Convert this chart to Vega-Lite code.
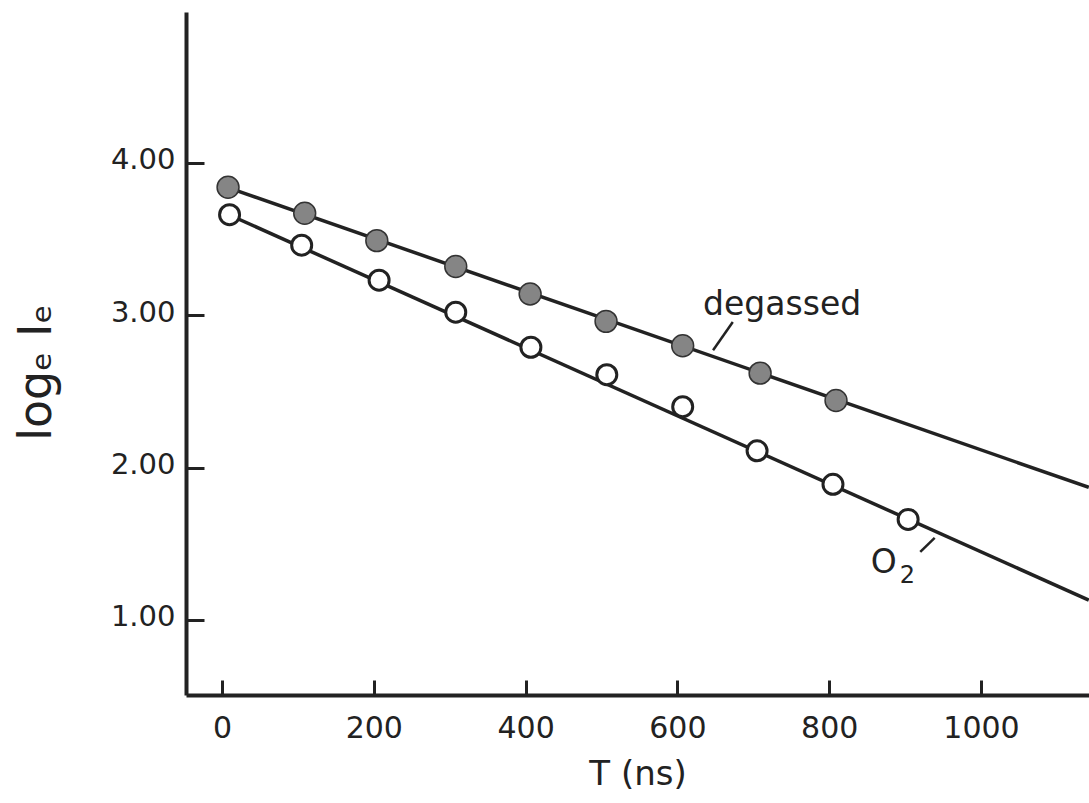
{
  "$schema": "https://vega.github.io/schema/vega-lite/v6.json",
  "width": 903,
  "height": 683,
  "autosize": {"type": "none"},
  "padding": {"left": 186, "top": 12, "right": 0, "bottom": 108},
  "background": "white",
  "config": {
    "view": {"stroke": null},
    "font": "DejaVu Sans",
    "axis": {
      "grid": false,
      "domainColor": "#222222",
      "domainWidth": 4,
      "tickColor": "#222222",
      "tickWidth": 3,
      "labelColor": "#222222",
      "titleColor": "#222222",
      "labelFont": "DejaVu Sans",
      "titleFont": "DejaVu Sans",
      "labelFontWeight": "normal",
      "titleFontWeight": "normal"
    }
  },
  "datasets": {
    "points": [
      {"sample": "degassed", "t": 8, "v": 3.84},
      {"sample": "degassed", "t": 109, "v": 3.67},
      {"sample": "degassed", "t": 204, "v": 3.49},
      {"sample": "degassed", "t": 308, "v": 3.32},
      {"sample": "degassed", "t": 406, "v": 3.14},
      {"sample": "degassed", "t": 506, "v": 2.96},
      {"sample": "degassed", "t": 607, "v": 2.8},
      {"sample": "degassed", "t": 709, "v": 2.62},
      {"sample": "degassed", "t": 809, "v": 2.44},
      {"sample": "O2", "t": 10, "v": 3.66},
      {"sample": "O2", "t": 105, "v": 3.46},
      {"sample": "O2", "t": 207, "v": 3.23},
      {"sample": "O2", "t": 308, "v": 3.02},
      {"sample": "O2", "t": 407, "v": 2.79},
      {"sample": "O2", "t": 507, "v": 2.61},
      {"sample": "O2", "t": 607, "v": 2.4},
      {"sample": "O2", "t": 705, "v": 2.11},
      {"sample": "O2", "t": 805, "v": 1.89},
      {"sample": "O2", "t": 904, "v": 1.66}
    ],
    "fits": [
      {"sample": "degassed", "t": 7, "v": 3.84},
      {"sample": "degassed", "t": 1142, "v": 1.87},
      {"sample": "O2", "t": 9, "v": 3.66},
      {"sample": "O2", "t": 1142, "v": 1.13}
    ],
    "notes": [
      {"label": "degassed", "t": 738, "v": 3.0, "align": "center"},
      {"label": "O", "t": 872, "v": 1.31, "align": "left"}
    ],
    "subscripts": [
      {"label": "2", "t": 893, "v": 1.245}
    ],
    "leaders": [
      {"t": 647, "v": 2.77, "t2": 673, "v2": 2.956},
      {"t": 920, "v": 1.446, "t2": 939, "v2": 1.538}
    ]
  },
  "layer": [
    {
      "data": {"name": "fits"},
      "mark": {"type": "line", "color": "#222222", "strokeWidth": 3.5},
      "encoding": {
        "x": {
          "field": "t",
          "type": "quantitative",
          "scale": {"domain": [-47.4, 1142.3], "nice": false, "zero": false},
          "axis": {
            "values": [0, 200, 400, 600, 800, 1000],
            "format": "d",
            "tickSize": -15,
            "labelPadding": 33,
            "labelFontSize": 30,
            "title": "T (ns)",
            "titleFontSize": 34,
            "titlePadding": 14
          }
        },
        "y": {
          "field": "v",
          "type": "quantitative",
          "scale": {"domain": [0.507, 4.991], "nice": false, "zero": false},
          "axis": {
            "values": [1, 2, 3, 4],
            "format": ".2f",
            "tickSize": -18,
            "labelPadding": 29,
            "labelFontSize": 29,
            "labelOffset": -3,
            "title": "logₑ Iₑ",
            "titleFontSize": 46,
            "titleAngle": -90,
            "titleBaseline": "middle",
            "titleX": -150,
            "titleY": 360
          }
        },
        "detail": {"field": "sample"}
      }
    },
    {
      "mark": {"type": "rule", "color": "#222222", "strokeWidth": 3.5},
      "encoding": {
        "y": {"datum": 4.991, "type": "quantitative"}
      }
    },
    {
      "data": {"name": "leaders"},
      "mark": {"type": "rule", "color": "#222222", "strokeWidth": 2.5},
      "encoding": {
        "x": {"field": "t", "type": "quantitative"},
        "y": {"field": "v", "type": "quantitative"},
        "x2": {"field": "t2"},
        "y2": {"field": "v2"}
      }
    },
    {
      "data": {"name": "points"},
      "transform": [{"filter": "datum.sample === 'degassed'"}],
      "mark": {"type": "point", "shape": "circle", "filled": true, "fill": "#858585", "stroke": "#333333", "strokeWidth": 1.5, "size": 480, "opacity": 1},
      "encoding": {
        "x": {"field": "t", "type": "quantitative"},
        "y": {"field": "v", "type": "quantitative"}
      }
    },
    {
      "data": {"name": "points"},
      "transform": [{"filter": "datum.sample === 'O2'"}],
      "mark": {"type": "point", "shape": "circle", "filled": false, "fill": "white", "fillOpacity": 1, "stroke": "#222222", "strokeWidth": 3, "size": 400, "opacity": 1},
      "encoding": {
        "x": {"field": "t", "type": "quantitative"},
        "y": {"field": "v", "type": "quantitative"}
      }
    },
    {
      "data": {"name": "notes"},
      "mark": {"type": "text", "fontSize": 33, "color": "#222222", "baseline": "alphabetic"},
      "encoding": {
        "x": {"field": "t", "type": "quantitative"},
        "y": {"field": "v", "type": "quantitative"},
        "text": {"field": "label"},
        "align": {"field": "align", "type": "nominal", "scale": null}
      }
    },
    {
      "data": {"name": "subscripts"},
      "mark": {"type": "text", "fontSize": 24, "color": "#222222", "baseline": "alphabetic", "align": "left"},
      "encoding": {
        "x": {"field": "t", "type": "quantitative"},
        "y": {"field": "v", "type": "quantitative"},
        "text": {"field": "label"}
      }
    }
  ]
}
